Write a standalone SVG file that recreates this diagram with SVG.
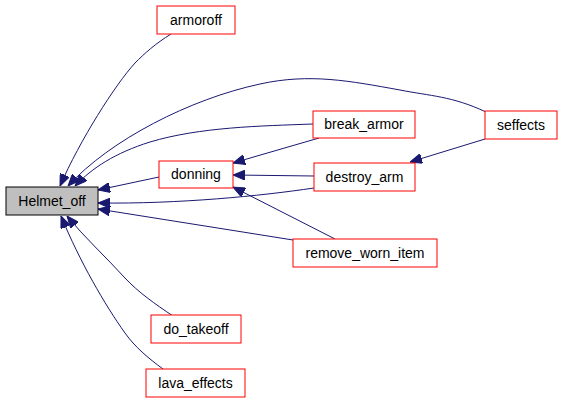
<svg xmlns="http://www.w3.org/2000/svg" width="563" height="403" viewBox="0 0 563 403">
<style>
.n rect{fill:#fff;stroke:#ff0000;stroke-width:1}
#helmet rect{fill:#bfbfbf;stroke:#000}
text{font-family:"Liberation Sans",Arial,sans-serif;font-size:14px;fill:#000;text-anchor:middle}
.e path{fill:none;stroke:#191970;stroke-width:1;marker-end:url(#ah)}
</style>
<defs>
<marker id="ah" viewBox="0 0 12 10" refX="12" refY="5" markerWidth="12" markerHeight="10" markerUnits="userSpaceOnUse" orient="auto">
<path d="M0,0 L12,5 L0,10 Z" fill="#191970" stroke="#191970"/>
</marker>
</defs>
<rect width="563" height="403" fill="#fff"/>
<g class="e">
<path d="M171,34 C155,44 145,53 135,63 C115,85 80,140 60,186"/>
<path d="M486,112 C452,96 430,96 400,90 C350,81 310,73 260,84 C190,99 110,140 68,186"/>
<path d="M313,124 C260,126 200,127 150,142 C115,153 92,168 75,186"/>
<path d="M159,177 L98,190"/>
<path d="M314,188 C260,196 180,204 98,203"/>
<path d="M293,240 L98,209"/>
<path d="M173,316 C155,304 138,292 125,278 C105,256 85,238 67,216"/>
<path d="M163,369 C148,358 135,347 125,333 C105,305 80,262 61,216"/>
<path d="M319,138 L233,163"/>
<path d="M314,176 L233,175"/>
<path d="M335,239 L233,187"/>
<path d="M485,139 L410,162"/>
</g>
<g id="helmet" class="n"><rect x="6" y="187" width="92" height="28"/><text x="52" y="206">Helmet_off</text></g>
<g id="armoroff" class="n"><rect x="157" y="6" width="78" height="28"/><text x="196" y="25">armoroff</text></g>
<g id="donning" class="n"><rect x="159" y="161" width="74" height="27"/><text x="196" y="179">donning</text></g>
<g id="break_armor" class="n"><rect x="313" y="111" width="102" height="27"/><text x="364" y="129">break_armor</text></g>
<g id="destroy_arm" class="n"><rect x="314" y="163" width="101" height="28"/><text x="364.5" y="182">destroy_arm</text></g>
<g id="remove_worn_item" class="n"><rect x="293" y="239" width="144" height="28"/><text x="365" y="258">remove_worn_item</text></g>
<g id="seffects" class="n"><rect x="485" y="111" width="72" height="28"/><text x="521" y="130">seffects</text></g>
<g id="do_takeoff" class="n"><rect x="151" y="315" width="90" height="28"/><text x="196" y="334">do_takeoff</text></g>
<g id="lava_effects" class="n"><rect x="146" y="369" width="99" height="28"/><text x="195.5" y="388">lava_effects</text></g>
</svg>
